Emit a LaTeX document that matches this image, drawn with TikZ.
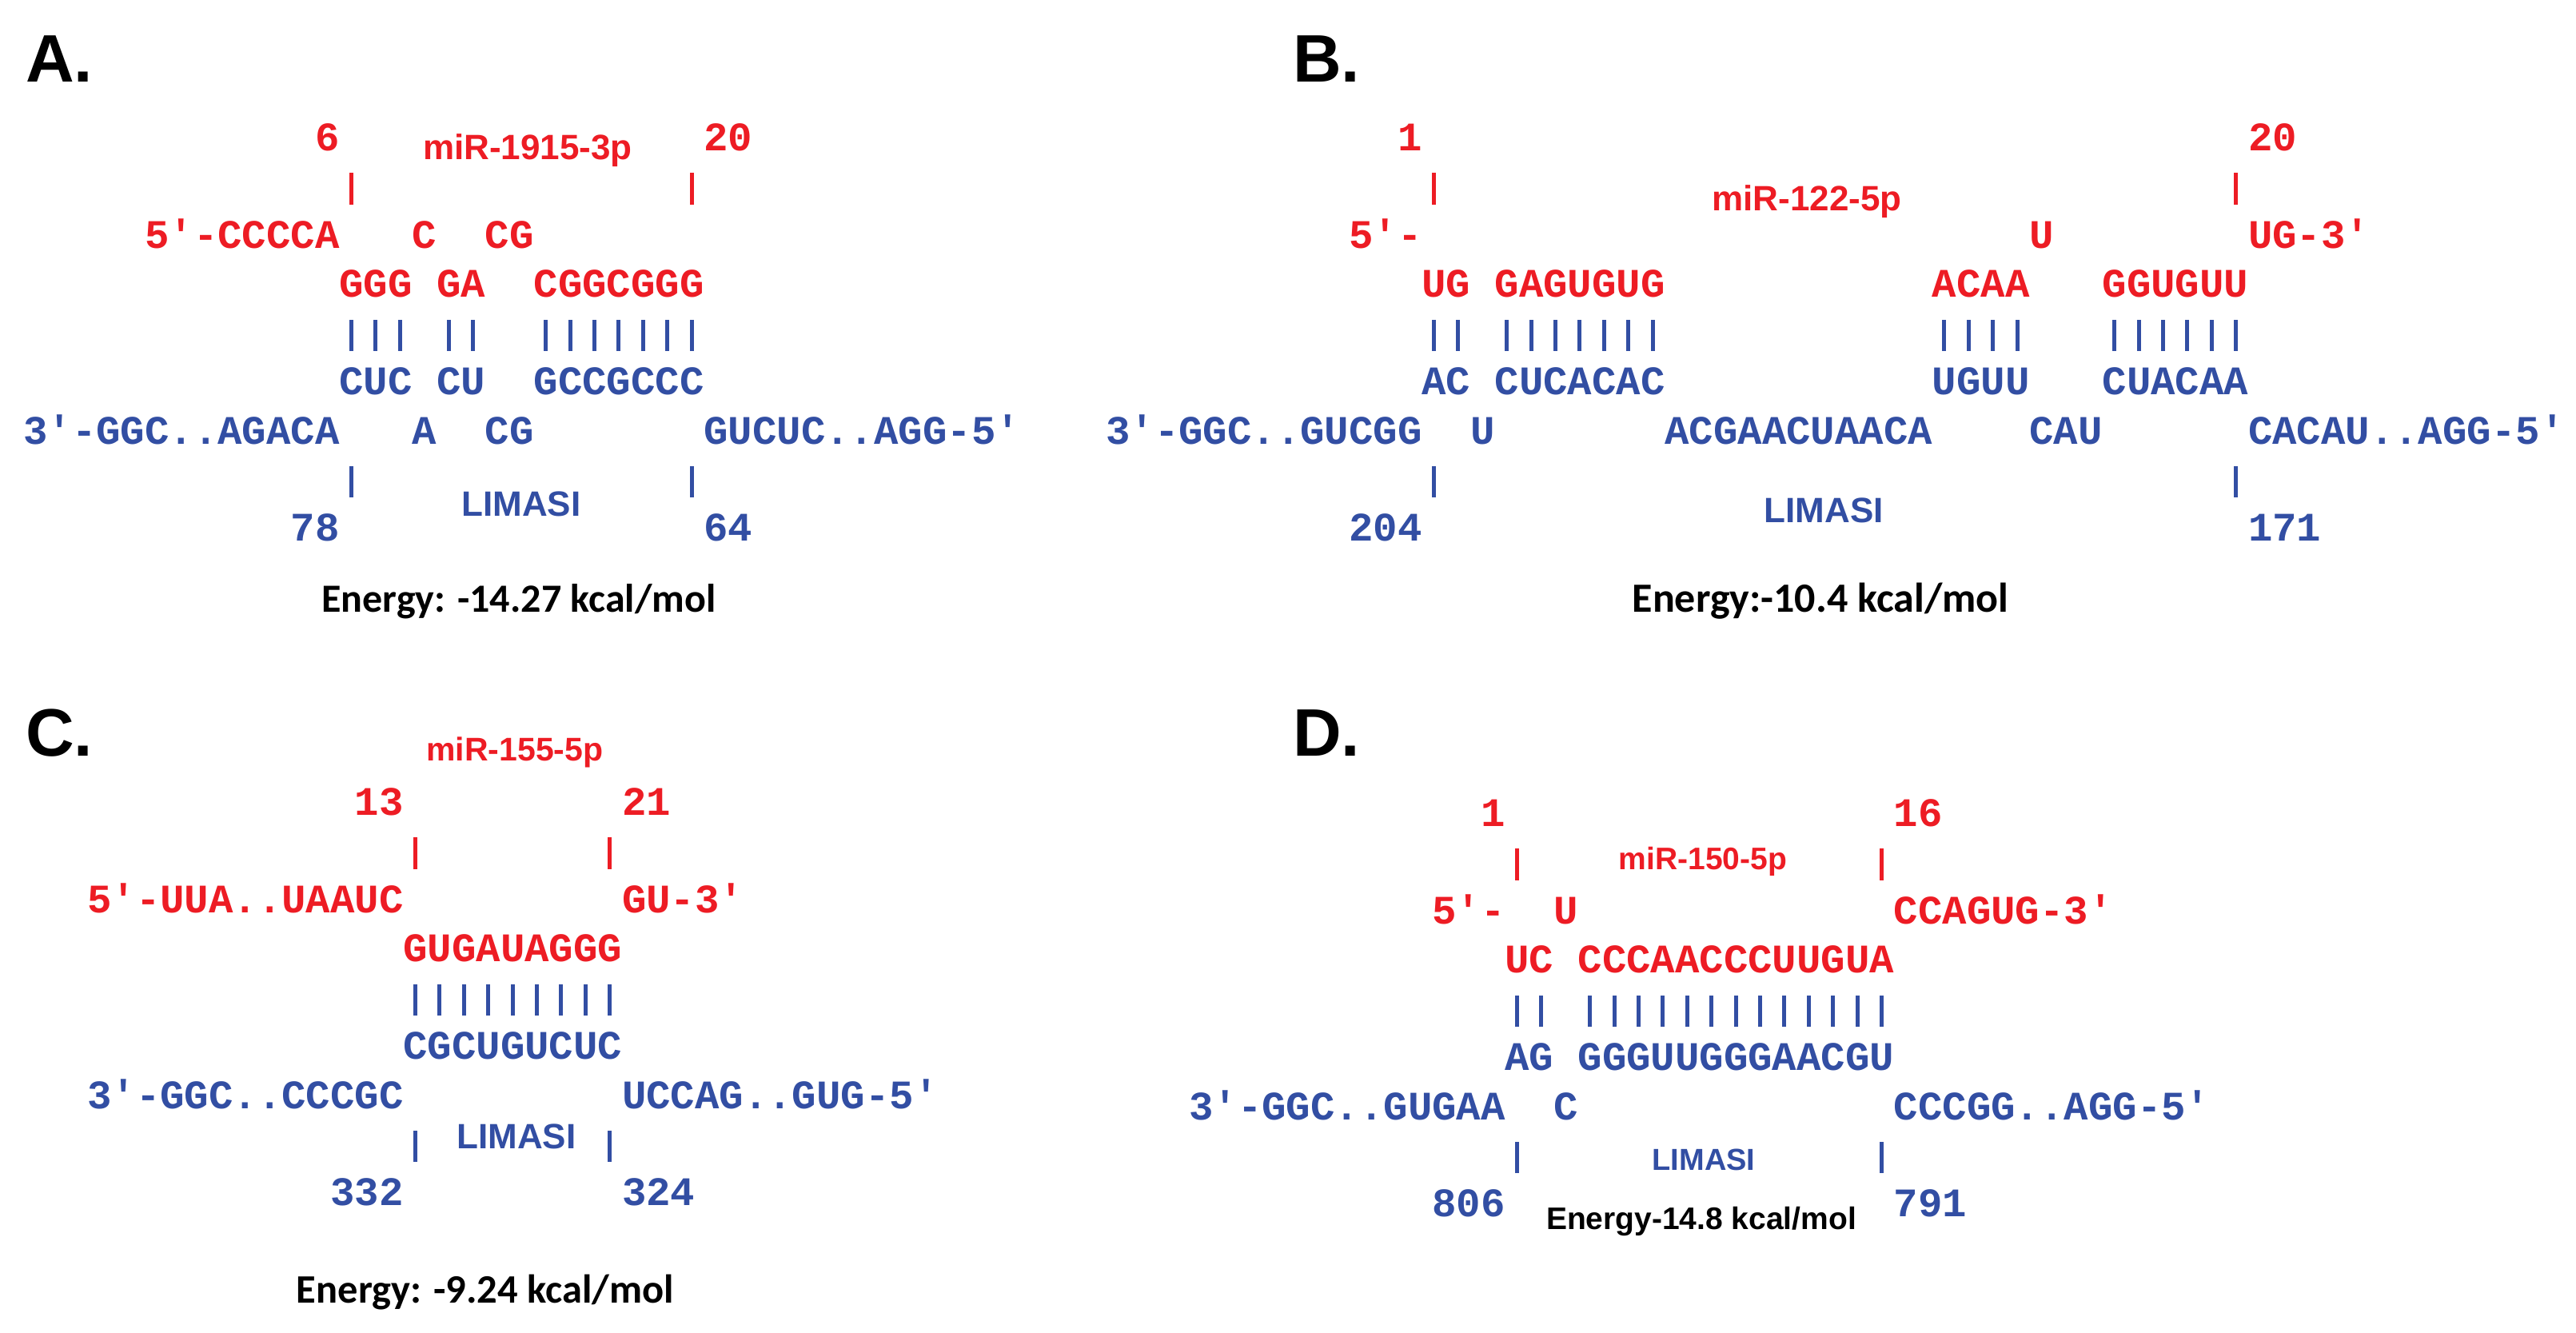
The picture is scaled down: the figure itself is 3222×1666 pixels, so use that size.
\documentclass[tikz,border=0pt]{standalone}
\usepackage{fontspec}
\newfontfamily\seqf{Liberation Mono}[Ligatures=TeXOff]
\newfontfamily\arf{Liberation Sans}
\newfontfamily\calf{Carlito}
\definecolor{mired}{RGB}{237,28,36}
\definecolor{tgblue}{RGB}{50,78,163}
\def\cw{30.4}
\newcommand\Sq[5]{\node[seq,#1] (#2) at ({#3*\cw},#4) {#5};}
\newcommand\RedTick[1]{\draw[tickr] ({(#1+0.5)*\cw},216) -- ++(0,40);}
\newcommand\BlueTick[1]{\draw[tickb] ({(#1+0.5)*\cw},583) -- ++(0,39);}
\newcommand\PairBars[1]{\foreach \c in {#1} \draw[pairb] ({(\c+0.5)*\cw},400) -- ++(0,39);}
\begin{document}
\begin{tikzpicture}[x=1pt,y=-1pt,
  seq/.style={font=\seqf\bfseries\fontsize{50.7}{61}\selectfont, inner sep=0pt, anchor=base west},
  rd/.style={text=mired},
  bl/.style={text=tgblue},
  tickr/.style={draw=mired, line width=5pt},
  tickb/.style={draw=tgblue, line width=5pt},
  pairb/.style={draw=tgblue, line width=5pt},
  panel/.style={font=\arf\bfseries\fontsize{84}{90}\selectfont, inner sep=0pt, anchor=base west},
  lab/.style={inner sep=0pt, anchor=base},
]
\useasboundingbox (0,0) rectangle (3222,1666);

% panel letters
\node[panel] (LA) at (32,102) {A.};
\node[panel] (LB) at (1617,102) {B.};
\node[panel] (LC) at (32,945) {C.};
\node[panel] (LD) at (1617,945) {D.};

% ---------------- Panel A ----------------
\begin{scope}[shift={(29,0)}]
\Sq{rd}{a1}{12}{188}{6}
\Sq{rd}{a2}{28}{188}{20}
\RedTick{13} \RedTick{27}
\Sq{rd}{a3}{5}{310}{5'-CCCCA}
\Sq{rd}{a4}{16}{310}{C}
\Sq{rd}{a5}{19}{310}{CG}
\Sq{rd}{a6}{13}{371}{GGG}
\Sq{rd}{a7}{17}{371}{GA}
\Sq{rd}{a8}{21}{371}{CGGCGGG}
\PairBars{13,14,15,17,18,21,22,23,24,25,26,27}
\Sq{bl}{a9}{13}{493}{CUC}
\Sq{bl}{a10}{17}{493}{CU}
\Sq{bl}{a11}{21}{493}{GCCGCCC}
\Sq{bl}{a12}{0}{555}{3'-GGC..AGACA}
\Sq{bl}{a13}{16}{555}{A}
\Sq{bl}{a14}{19}{555}{CG}
\Sq{bl}{a15}{28}{555}{GUCUC..AGG-5'}
\BlueTick{13} \BlueTick{27}
\Sq{bl}{a16}{11}{676}{78}
\Sq{bl}{a17}{28}{676}{64}
\end{scope}
\node[lab, text=mired, font=\arf\bfseries\fontsize{44}{50}\selectfont] (amir) at (660,199) {miR-1915-3p};
\node[lab, text=tgblue, font=\arf\bfseries\fontsize{44}{50}\selectfont] (alim) at (652,645) {LIMASI};
\node[lab, font=\calf\bfseries\fontsize{50}{56}\selectfont] (aen) at (649,765) {Energy: -14.27 kcal/mol};

% ---------------- Panel B ----------------
\begin{scope}[shift={(1383,0)}]
\Sq{rd}{b1}{12}{188}{1}
\Sq{rd}{b2}{47}{188}{20}
\RedTick{13} \RedTick{46}
\Sq{rd}{b3}{10}{310}{5'-}
\Sq{rd}{b4}{38}{310}{U}
\Sq{rd}{b5}{47}{310}{UG-3'}
\Sq{rd}{b6}{13}{371}{UG}
\Sq{rd}{b7}{16}{371}{GAGUGUG}
\Sq{rd}{b8}{34}{371}{ACAA}
\Sq{rd}{b9}{41}{371}{GGUGUU}
\PairBars{13,14,16,17,18,19,20,21,22,34,35,36,37,41,42,43,44,45,46}
\Sq{bl}{b10}{13}{493}{AC}
\Sq{bl}{b11}{16}{493}{CUCACAC}
\Sq{bl}{b12}{34}{493}{UGUU}
\Sq{bl}{b13}{41}{493}{CUACAA}
\Sq{bl}{b14}{0}{555}{3'-GGC..GUCGG}
\Sq{bl}{b15}{15}{555}{U}
\Sq{bl}{b16}{23}{555}{ACGAACUAACA}
\Sq{bl}{b17}{38}{555}{CAU}
\Sq{bl}{b18}{47}{555}{CACAU..AGG-5'}
\BlueTick{13} \BlueTick{46}
\Sq{bl}{b19}{10}{676}{204}
\Sq{bl}{b20}{47}{676}{171}
\end{scope}
\node[lab, text=mired, font=\arf\bfseries\fontsize{44}{50}\selectfont] (bmir) at (2260,263) {miR-122-5p};
\node[lab, text=tgblue, font=\arf\bfseries\fontsize{44}{50}\selectfont] (blim) at (2281,653) {LIMASI};
\node[lab, font=\calf\bfseries\fontsize{52}{58}\selectfont] (ben) at (2277,765) {Energy:-10.4 kcal/mol};

% ---------------- Panel C ----------------
\begin{scope}[shift={(109,831)}]
\Sq{rd}{c1}{11}{188}{13}
\Sq{rd}{c2}{22}{188}{21}
\RedTick{13} \RedTick{21}
\Sq{rd}{c3}{0}{310}{5'-UUA..UAAUC}
\Sq{rd}{c4}{22}{310}{GU-3'}
\Sq{rd}{c5}{13}{371}{GUGAUAGGG}
\PairBars{13,14,15,16,17,18,19,20,21}
\Sq{bl}{c6}{13}{493}{CGCUGUCUC}
\Sq{bl}{c7}{0}{555}{3'-GGC..CCCGC}
\Sq{bl}{c8}{22}{555}{UCCAG..GUG-5'}
\BlueTick{13} \BlueTick{21}
\Sq{bl}{c9}{10}{676}{332}
\Sq{bl}{c10}{22}{676}{324}
\end{scope}
\node[lab, text=mired, font=\arf\bfseries\fontsize{41}{47}\selectfont] (cmir) at (644,951) {miR-155-5p};
\node[lab, text=tgblue, font=\arf\bfseries\fontsize{44}{50}\selectfont] (clim) at (646,1436) {LIMASI};
\node[lab, font=\calf\bfseries\fontsize{50.5}{56}\selectfont] (cen) at (607,1629) {Energy: -9.24 kcal/mol};

% ---------------- Panel D ----------------
\begin{scope}[shift={(1487,845)}]
\Sq{rd}{d1}{12}{188}{1}
\Sq{rd}{d2}{29}{188}{16}
\RedTick{13} \RedTick{28}
\Sq{rd}{d3}{10}{310}{5'-}
\Sq{rd}{d4}{15}{310}{U}
\Sq{rd}{d5}{29}{310}{CCAGUG-3'}
\Sq{rd}{d6}{13}{371}{UC}
\Sq{rd}{d7}{16}{371}{CCCAACCCUUGUA}
\PairBars{13,14,16,17,18,19,20,21,22,23,24,25,26,27,28}
\Sq{bl}{d8}{13}{493}{AG}
\Sq{bl}{d9}{16}{493}{GGGUUGGGAACGU}
\Sq{bl}{d10}{0}{555}{3'-GGC..GUGAA}
\Sq{bl}{d11}{15}{555}{C}
\Sq{bl}{d12}{29}{555}{CCCGG..AGG-5'}
\BlueTick{13} \BlueTick{28}
\Sq{bl}{d13}{10}{676}{806}
\Sq{bl}{d14}{29}{676}{791}
\end{scope}
\node[lab, text=mired, font=\arf\bfseries\fontsize{39}{45}\selectfont] (dmir) at (2130,1087) {miR-150-5p};
\node[lab, text=tgblue, font=\arf\bfseries\fontsize{38}{44}\selectfont] (dlim) at (2131,1463) {LIMASI};
\node[lab, font=\arf\bfseries\fontsize{39}{45}\selectfont] (den) at (2128,1537) {Energy-14.8 kcal/mol};
\end{tikzpicture}
\end{document}
